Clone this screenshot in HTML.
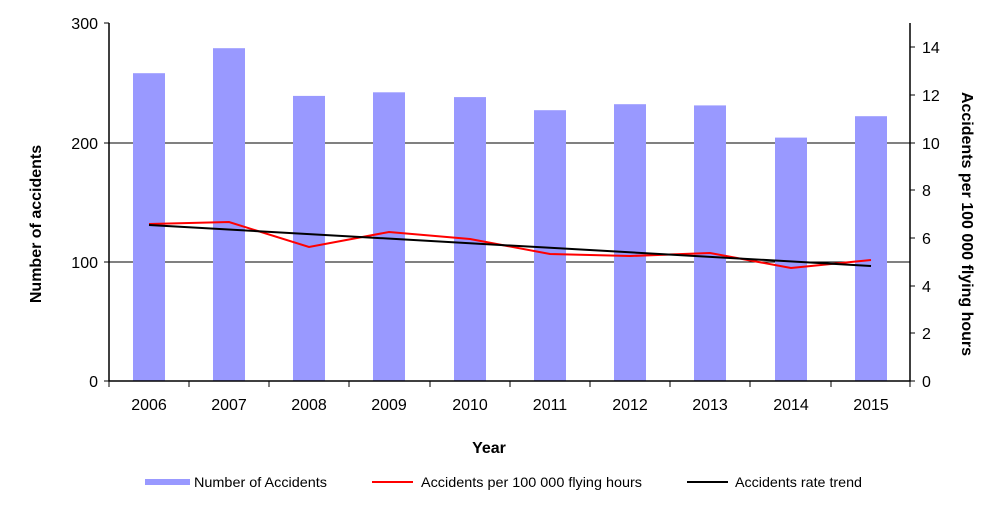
<!DOCTYPE html>
<html><head><meta charset="utf-8"><style>body{margin:0;background:#fff}svg{display:block}</style></head><body>
<svg width="1000" height="507" xmlns="http://www.w3.org/2000/svg" font-family="Liberation Sans, sans-serif">
<rect width="1000" height="507" fill="#fff"/>
<g stroke="#000" stroke-width="1">
<line x1="109" y1="143" x2="910" y2="143"/>
<line x1="109" y1="262" x2="910" y2="262"/>
</g>
<g fill="#9999ff">
<rect x="133" y="73.2" width="32" height="307.8"/>
<rect x="213" y="48.2" width="32" height="332.8"/>
<rect x="293" y="95.9" width="32" height="285.1"/>
<rect x="373" y="92.3" width="32" height="288.7"/>
<rect x="454" y="97.1" width="32" height="283.9"/>
<rect x="534" y="110.2" width="32" height="270.8"/>
<rect x="614" y="104.2" width="32" height="276.8"/>
<rect x="694" y="105.4" width="32" height="275.6"/>
<rect x="775" y="137.6" width="32" height="243.4"/>
<rect x="855" y="116.2" width="32" height="264.8"/>
</g>
<polyline fill="none" stroke="#ff0000" stroke-width="2" points="149,224 229,222 309,247 389,232 470,239 550,254 630,256 710,253 791,268 871,260"/>
<line x1="149" y1="225" x2="871" y2="266" stroke="#000" stroke-width="2"/>
<g stroke="#000" stroke-width="1.5" fill="none">
<polyline points="109,23 109,381 910,381 910,23"/>
</g>
<g stroke="#000" stroke-width="1">
<line x1="104" y1="23" x2="109" y2="23"/><line x1="104" y1="143" x2="109" y2="143"/><line x1="104" y1="262" x2="109" y2="262"/><line x1="104" y1="381" x2="109" y2="381"/>
<line x1="910" y1="47" x2="915" y2="47"/><line x1="910" y1="95" x2="915" y2="95"/><line x1="910" y1="143" x2="915" y2="143"/><line x1="910" y1="190" x2="915" y2="190"/><line x1="910" y1="238" x2="915" y2="238"/><line x1="910" y1="286" x2="915" y2="286"/><line x1="910" y1="333" x2="915" y2="333"/><line x1="910" y1="381" x2="915" y2="381"/>
<line x1="109" y1="381" x2="109" y2="387"/><line x1="189" y1="381" x2="189" y2="387"/><line x1="269" y1="381" x2="269" y2="387"/><line x1="349" y1="381" x2="349" y2="387"/><line x1="430" y1="381" x2="430" y2="387"/><line x1="510" y1="381" x2="510" y2="387"/><line x1="590" y1="381" x2="590" y2="387"/><line x1="670" y1="381" x2="670" y2="387"/><line x1="750" y1="381" x2="750" y2="387"/><line x1="831" y1="381" x2="831" y2="387"/><line x1="910" y1="381" x2="910" y2="387"/>
</g>
<g font-size="16" text-anchor="end" fill="#000">
<text x="98" y="29">300</text><text x="98" y="149">200</text><text x="98" y="268">100</text><text x="98" y="387">0</text>
</g>
<g font-size="16" text-anchor="start" fill="#000">
<text x="922" y="53">14</text><text x="922" y="101">12</text><text x="922" y="149">10</text><text x="922" y="196">8</text><text x="922" y="244">6</text><text x="922" y="292">4</text><text x="922" y="339">2</text><text x="922" y="387">0</text>
</g>
<g font-size="16" text-anchor="middle" fill="#000">
<text x="149" y="410">2006</text><text x="229" y="410">2007</text><text x="309" y="410">2008</text><text x="389" y="410">2009</text><text x="470" y="410">2010</text><text x="550" y="410">2011</text><text x="630" y="410">2012</text><text x="710" y="410">2013</text><text x="791" y="410">2014</text><text x="871" y="410">2015</text>
</g>
<text x="489" y="453" font-size="16" font-weight="bold" text-anchor="middle">Year</text>
<text transform="translate(41,224) rotate(-90)" font-size="16" font-weight="bold" text-anchor="middle">Number of accidents</text>
<text transform="translate(962,224) rotate(90)" font-size="16" font-weight="bold" text-anchor="middle">Accidents per 100 000 flying hours</text>
<rect x="145" y="479" width="45" height="6" fill="#9999ff"/>
<text x="194" y="487" font-size="14" textLength="133" lengthAdjust="spacingAndGlyphs">Number of Accidents</text>
<line x1="372" y1="482" x2="413" y2="482" stroke="#ff0000" stroke-width="2"/>
<text x="421" y="487" font-size="14" textLength="221" lengthAdjust="spacingAndGlyphs">Accidents per 100 000 flying hours</text>
<line x1="687" y1="482" x2="728" y2="482" stroke="#000" stroke-width="2"/>
<text x="735" y="487" font-size="14" textLength="127" lengthAdjust="spacingAndGlyphs">Accidents rate trend</text>
</svg>
</body></html>
